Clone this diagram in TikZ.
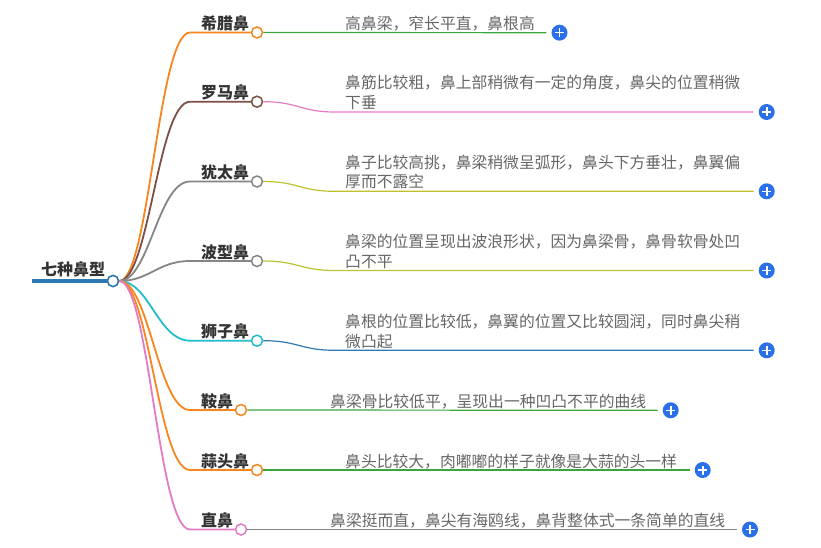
\documentclass[tikz,border=0pt]{standalone}
\usepackage{fontspec}
\setmainfont{Noto Sans CJK SC}

\begin{document}
\begin{tikzpicture}[x=1pt,y=-1pt,
    dot/.style={circle, draw, fill=white, line width=1.5pt, inner sep=0pt, minimum size=11pt},
    branch/.style={line width=1.8pt},
    twig/.style={line width=1.2pt},
    catlabel/.style={anchor=base west, inner sep=0pt, text=labeltext,
        font=\fontsize{16}{19}\selectfont\bfseries},
    desc/.style={anchor=base west, inner sep=0pt, text=desctext,
        font=\fontsize{15.8}{19}\selectfont},
    plusbtn/.style={circle, fill=plusblue, inner sep=0pt, minimum size=16pt,
        path picture={\draw[white, line width=1.6pt]
            ([xshift=-4.5pt]path picture bounding box.center) -- ([xshift=4.5pt]path picture bounding box.center)
            ([yshift=-4.5pt]path picture bounding box.center) -- ([yshift=4.5pt]path picture bounding box.center);}}]

    % Colores (paleta del mapa mental)
    \definecolor{tblue}{HTML}{2E78B4}
    \definecolor{torange}{HTML}{F7861E}
    \definecolor{tgreen}{HTML}{3DA43D}
    \definecolor{tbrown}{HTML}{7E4F44}
    \definecolor{tpink}{HTML}{E27BC4}
    \definecolor{tgray}{HTML}{858585}
    \definecolor{tolive}{HTML}{BFC030}
    \definecolor{tcyan}{HTML}{22BDCB}
    \definecolor{plusblue}{HTML}{2B6FE9}
    \definecolor{labeltext}{HTML}{333333}
    \definecolor{desctext}{HTML}{666666}

    \useasboundingbox (0,0) rectangle (821,548);

    % puntos de quiebre de las ramas
    \coordinate (elbow) at (190,0);
    \coordinate (twist) at (335,0);
    \coordinate (rootstart) at (32,281);

    % 1. Raíz
    \node[dot, draw=tblue] (root) at (113,281) {};
    \node[catlabel] (rootlbl) at (41,275.5) {七种鼻型};

    % 2. Nodos de primer nivel
    \node[dot, draw=torange] (xl) at (257,32.5) {};
    \node[dot, draw=tbrown]  (lm) at (257,101.7) {};
    \node[dot, draw=tgray]   (yt) at (257,181.5) {};
    \node[dot, draw=tgray]   (bx) at (257,261) {};
    \node[dot, draw=tcyan]   (sz) at (257,340.7) {};
    \node[dot, draw=torange] (an) at (241,410) {};
    \node[dot, draw=torange] (st) at (257,470) {};
    \node[dot, draw=tpink]   (zb) at (241,529.5) {};

    \node[catlabel] (xlt) at (201,29.5) {希腊鼻};
    \node[catlabel] (lmt) at (201,98.7) {罗马鼻};
    \node[catlabel] (ytt) at (201,178.5) {犹太鼻};
    \node[catlabel] (bxt) at (201,258) {波型鼻};
    \node[catlabel] (szt) at (201,337.7) {狮子鼻};
    \node[catlabel] (ant) at (201,407) {鞍鼻};
    \node[catlabel] (stt) at (201,467) {蒜头鼻};
    \node[catlabel] (zbt) at (201,526.5) {直鼻};

    % 3. Botones "+"
    \node[plusbtn] (xlp) at (559.5,32.7) {};
    \node[plusbtn] (lmp) at (766.7,112) {};
    \node[plusbtn] (ytp) at (766.7,191.3) {};
    \node[plusbtn] (bxp) at (766.7,270.5) {};
    \node[plusbtn] (szp) at (766.7,350.3) {};
    \node[plusbtn] (anp) at (670.7,410.3) {};
    \node[plusbtn] (stp) at (702.7,470) {};
    \node[plusbtn] (zbp) at (750,529.5) {};

    % 4. Ramas desde la raíz
    \draw[line width=3.5pt, tblue] (rootstart) -- (root.west);
    \draw[branch, torange] (root.east) .. controls +(30,0) and +(-32,0) .. (xl -| elbow) -- (xl.west);
    \draw[branch, tbrown]  (root.east) .. controls +(30,0) and +(-32,0) .. (lm -| elbow) -- (lm.west);
    \draw[branch, tgray]   (root.east) .. controls +(30,0) and +(-32,0) .. (yt -| elbow) -- (yt.west);
    \draw[branch, tgray]   (root.east) .. controls +(30,0) and +(-32,0) .. (bx -| elbow) -- (bx.west);
    \draw[branch, tcyan]   (root.east) .. controls +(30,0) and +(-32,0) .. (sz -| elbow) -- (sz.west);
    \draw[branch, torange] (root.east) .. controls +(30,0) and +(-32,0) .. (an -| elbow) -- (an.west);
    \draw[branch, torange] (root.east) .. controls +(30,0) and +(-32,0) .. (st -| elbow) -- (st.west);
    \draw[branch, tpink]   (root.east) .. controls +(30,0) and +(-32,0) .. (zb -| elbow) -- (zb.west);
    \node[dot, draw=tblue] at (root) {};

    % 5. Ramas de segundo nivel
    \draw[twig, tgreen, shorten >=5pt] (xl.east) -- (xlp.west);
    \draw[twig, tpink, shorten >=5pt]  (lm.east) .. controls +(35,0) and +(-35,0) .. (lmp -| twist) -- (lmp.west);
    \draw[twig, tolive, shorten >=5pt] (yt.east) .. controls +(35,0) and +(-35,0) .. (ytp -| twist) -- (ytp.west);
    \draw[twig, tolive, shorten >=5pt] (bx.east) .. controls +(35,0) and +(-35,0) .. (bxp -| twist) -- (bxp.west);
    \draw[twig, tblue, shorten >=5pt]  (sz.east) .. controls +(35,0) and +(-35,0) .. (szp -| twist) -- (szp.west);
    \draw[twig, tgreen, shorten >=5pt] (an.east) -- (anp.west);
    \draw[twig, tgreen, shorten >=5pt] (st.east) -- (stp.west);
    \draw[twig, tgray, shorten >=5pt]  (zb.east) -- (zbp.west);

    % 6. Descripciones
    \node[desc] (xld) at (345,29.5) {高鼻梁，窄长平直，鼻根高};
    \node[desc] (lmd1) at (345,88.7) {鼻筋比较粗，鼻上部稍微有一定的角度，鼻尖的位置稍微};
    \node[desc] (lmd2) at (345,108.7) {下垂};
    \node[desc] (ytd1) at (345,168) {鼻子比较高挑，鼻梁稍微呈弧形，鼻头下方垂壮，鼻翼偏};
    \node[desc] (ytd2) at (345,188) {厚而不露空};
    \node[desc] (bxd1) at (345,247.5) {鼻梁的位置呈现出波浪形状，因为鼻梁骨，鼻骨软骨处凹};
    \node[desc] (bxd2) at (345,267.5) {凸不平};
    \node[desc] (szd1) at (345,327.3) {鼻根的位置比较低，鼻翼的位置又比较圆润，同时鼻尖稍};
    \node[desc] (szd2) at (345,347.3) {微凸起};
    \node[desc] (and) at (330,407) {鼻梁骨比较低平，呈现出一种凹凸不平的曲线};
    \node[desc] (std) at (345,467) {鼻头比较大，肉嘟嘟的样子就像是大蒜的头一样};
    \node[desc] (zbd) at (330,526.5) {鼻梁挺而直，鼻尖有海鸥线，鼻背整体式一条简单的直线};

\end{tikzpicture}
\end{document}
